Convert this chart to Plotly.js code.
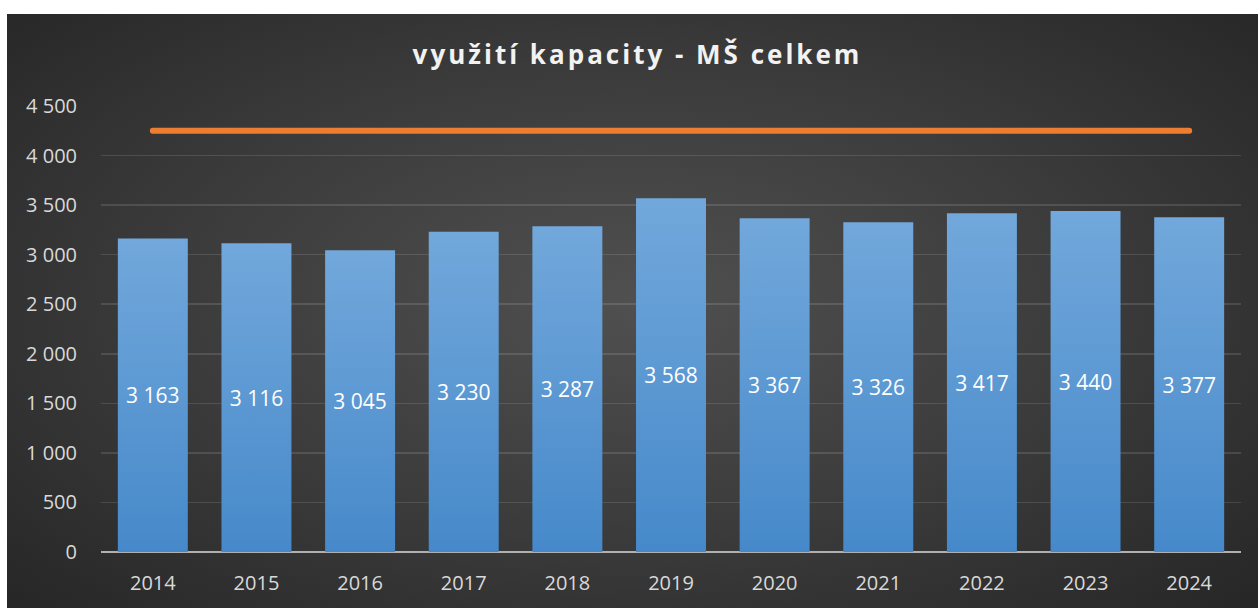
<!DOCTYPE html>
<html>
<head>
<meta charset="utf-8">
<script src="https://cdn.plot.ly/plotly-3.0.1.min.js"></script>
<style>
  html, body { margin:0; padding:0; background:#ffffff; width:1258px; height:608px; overflow:hidden; }
  #wrap { position:absolute; left:7px; top:14px; width:1251px; height:594px;
    background: radial-gradient(ellipse 70% 75% at 50% 48%, #505050 0%, #3a3a3a 55%, #262626 100%); }
  #chart { width:1251px; height:594px; }
  .gtitle { letter-spacing: 3px; }
</style>
</head>
<body>
<div id="wrap"><div id="chart"></div></div>
<script>
const years = ['2014','2015','2016','2017','2018','2019','2020','2021','2022','2023','2024'];
const usage = [3163, 3116, 3045, 3230, 3287, 3568, 3367, 3326, 3417, 3440, 3377];
const capacity = [4250, 4250, 4250, 4250, 4250, 4250, 4250, 4250, 4250, 4250, 4250];
const yTicks = [0, 500, 1000, 1500, 2000, 2500, 3000, 3500, 4000, 4500];

const data = [
  {
    type: 'bar', x: years, y: usage, name: 'využití',
    marker: { color: '#5b9bd5', line: { width: 0 } },
    texttemplate: '%{y:,.0f}', textposition: 'inside', insidetextanchor: 'middle',
    textangle: 0, constraintext: 'none',
    textfont: { family: 'Open Sans, sans-serif', size: 21, color: '#ffffff' },
    hoverinfo: 'x+y'
  },
  {
    type: 'scatter', mode: 'lines', x: years, y: capacity, name: 'kapacita',
    line: { color: '#ed7d31', width: 6 },
    hoverinfo: 'x+y'
  }
];

const layout = {
  width: 1251, height: 594,
  margin: { l: 94, r: 17, t: 92, b: 56 },
  paper_bgcolor: 'rgba(0,0,0,0)', plot_bgcolor: 'rgba(0,0,0,0)',
  separators: ', ',
  showlegend: false,
  bargap: 0.325,
  title: {
    text: '<b>využití kapacity - MŠ celkem</b>',
    font: { family: 'Open Sans, sans-serif', size: 26, color: '#f2f2f2' },
    x: 0.504, xanchor: 'center', xref: 'container',
    y: 0.931, yanchor: 'middle', yref: 'container'
  },
  xaxis: {
    type: 'category', tickvals: years, ticktext: years,
    tickfont: { family: 'Open Sans, sans-serif', size: 20, color: '#d9d9d9' },
    showgrid: false, zeroline: false, showline: false, ticks: '', ticklen: 0,
    ticklabelstandoff: 17,
    fixedrange: true
  },
  yaxis: {
    range: [0, 4500], tickvals: yTicks, separatethousands: true, tickformat: ',d',
    tickfont: { family: 'Open Sans, sans-serif', size: 20, color: '#d9d9d9' },
    showgrid: true, gridcolor: 'rgba(255,255,255,0.12)', gridwidth: 1.5,
    zeroline: true, zerolinecolor: '#b0b0b0', zerolinewidth: 2.5,
    showline: false, ticks: '', ticklabelstandoff: 23,
    fixedrange: true
  }
};

Plotly.newPlot('chart', data, layout, { displayModeBar: false, staticPlot: true }).then(function (gd) {
  const svgNS = 'http://www.w3.org/2000/svg';
  const svg = gd.querySelector('svg.main-svg');
  let defs = svg.querySelector('defs');
  if (!defs) { defs = document.createElementNS(svgNS, 'defs'); svg.insertBefore(defs, svg.firstChild); }
  const grad = document.createElementNS(svgNS, 'linearGradient');
  grad.setAttribute('id', 'barGrad');
  grad.setAttribute('x1', '0'); grad.setAttribute('y1', '0');
  grad.setAttribute('x2', '0'); grad.setAttribute('y2', '1');
  [['0%', '#72a8db'], ['100%', '#4689ca']].forEach(function (s) {
    const st = document.createElementNS(svgNS, 'stop');
    st.setAttribute('offset', s[0]); st.setAttribute('stop-color', s[1]);
    grad.appendChild(st);
  });
  defs.appendChild(grad);
  gd.querySelectorAll('.bars .point path').forEach(function (p) {
    p.style.fill = 'url(#barGrad)';
  });
  gd.querySelectorAll('.scatterlayer .js-line').forEach(function (p) {
    p.style.strokeLinecap = 'round';
  });
});
</script>
</body>
</html>
